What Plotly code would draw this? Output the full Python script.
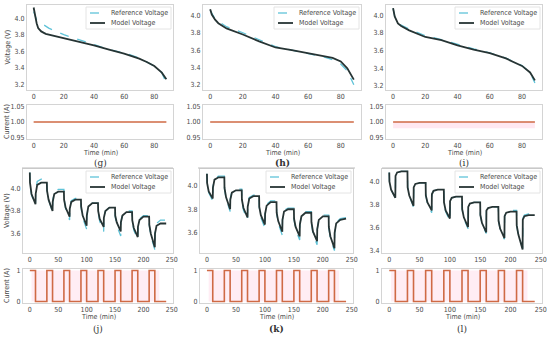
import plotly.graph_objects as go

W, H = 550, 339

# ---------------- DATA ----------------
# Constant-current discharge (panels g, h, i)
T_G_MODEL = [0, 1, 2, 3, 5, 8, 15, 20, 30, 40, 50, 60, 70, 75, 80, 85, 88]
V_G_MODEL = [4.13, 4.02, 3.94, 3.88, 3.84, 3.81, 3.78, 3.76, 3.72, 3.67, 3.62, 3.57, 3.51, 3.47, 3.42, 3.34, 3.26]
T_G_REF = [0, 2, 5, 10, 20, 30, 40, 50, 60, 70, 80, 85, 88]
V_G_REF = [4.08, 3.98, 3.94, 3.88, 3.80, 3.74, 3.68, 3.62, 3.58, 3.52, 3.42, 3.34, 3.21]

T_H_MODEL = [0, 1, 3, 5, 10, 20, 30, 40, 50, 60, 70, 75, 80, 84, 88]
V_H_MODEL = [4.07, 4.01, 3.95, 3.91, 3.85, 3.78, 3.70, 3.63, 3.60, 3.565, 3.53, 3.51, 3.47, 3.39, 3.26]
T_H_REF = [0, 1, 3, 5, 10, 20, 30, 40, 50, 60, 70, 75, 80, 84, 88]
V_H_REF = [4.06, 4.02, 3.96, 3.93, 3.87, 3.80, 3.72, 3.64, 3.60, 3.56, 3.52, 3.49, 3.44, 3.36, 3.20]

T_I_MODEL = [0, 1, 3, 5, 10, 20, 30, 40, 50, 60, 70, 80, 85, 88]
V_I_MODEL = [4.085, 3.99, 3.91, 3.88, 3.83, 3.755, 3.72, 3.66, 3.61, 3.57, 3.51, 3.425, 3.35, 3.26]
T_I_REF = [0, 1, 3, 5, 10, 20, 30, 40, 50, 60, 70, 80, 85, 88]
V_I_REF = [4.08, 3.99, 3.92, 3.89, 3.845, 3.77, 3.725, 3.67, 3.62, 3.575, 3.515, 3.43, 3.35, 3.23]

T_CC = [0, 88]
I_CC = [1.0, 1.0]
SHADE_I_X = [0, 88]
SHADE_I_Y = [0.98, 0.98]

# Pulse discharge (panels j, k, l)
T_PULSE = [0, 0.3, 3, 10, 10.3, 13, 20,
           30, 30.3, 33, 40, 40.3, 43, 50,
           60, 60.3, 63, 70, 70.3, 73, 80,
           90, 90.3, 93, 100, 100.3, 103, 110,
           120, 120.3, 123, 130, 130.3, 133, 140,
           150, 150.3, 153, 160, 160.3, 163, 170,
           180, 180.3, 183, 190, 190.3, 193, 200,
           210, 210.3, 213, 220, 220.3, 223, 230, 240]

V_J_MODEL = [4.14, 4.05, 3.95, 3.86, 3.95, 4.03, 4.05,
             4.05, 3.98, 3.90, 3.80, 3.88, 3.95, 3.97,
             3.97, 3.90, 3.83, 3.75, 3.82, 3.88, 3.90,
             3.90, 3.84, 3.76, 3.67, 3.76, 3.84, 3.87,
             3.87, 3.80, 3.73, 3.66, 3.74, 3.80, 3.83,
             3.83, 3.76, 3.70, 3.62, 3.70, 3.76, 3.79,
             3.79, 3.72, 3.65, 3.57, 3.66, 3.72, 3.75,
             3.75, 3.68, 3.60, 3.48, 3.60, 3.67, 3.69, 3.69]
V_J_REF = [4.14, 4.04, 3.94, 3.85, 3.97, 4.06, 4.08,
           4.08, 3.99, 3.90, 3.79, 3.89, 3.97, 3.99,
           3.99, 3.91, 3.82, 3.72, 3.82, 3.89, 3.91,
           3.91, 3.83, 3.74, 3.64, 3.76, 3.84, 3.87,
           3.87, 3.79, 3.71, 3.62, 3.73, 3.80, 3.83,
           3.83, 3.75, 3.67, 3.58, 3.70, 3.77, 3.80,
           3.80, 3.71, 3.63, 3.55, 3.66, 3.73, 3.76,
           3.76, 3.67, 3.58, 3.46, 3.61, 3.69, 3.72, 3.72]

V_K_MODEL = [4.10, 4.02, 3.95, 3.89, 3.98, 4.05, 4.07,
             4.07, 3.98, 3.90, 3.80, 3.88, 3.94, 3.96,
             3.96, 3.88, 3.81, 3.73, 3.82, 3.89, 3.91,
             3.91, 3.82, 3.75, 3.67, 3.76, 3.83, 3.86,
             3.86, 3.77, 3.70, 3.61, 3.71, 3.78, 3.80,
             3.80, 3.72, 3.65, 3.57, 3.67, 3.74, 3.77,
             3.77, 3.69, 3.61, 3.53, 3.63, 3.71, 3.74,
             3.74, 3.65, 3.57, 3.47, 3.60, 3.68, 3.71, 3.72]
V_K_REF = [4.10, 4.01, 3.94, 3.87, 3.99, 4.06, 4.08,
           4.08, 3.97, 3.89, 3.78, 3.89, 3.95, 3.97,
           3.97, 3.87, 3.79, 3.71, 3.83, 3.90, 3.92,
           3.92, 3.81, 3.73, 3.64, 3.76, 3.84, 3.87,
           3.87, 3.76, 3.68, 3.58, 3.71, 3.79, 3.81,
           3.81, 3.71, 3.63, 3.54, 3.67, 3.75, 3.78,
           3.78, 3.68, 3.59, 3.50, 3.63, 3.72, 3.75,
           3.75, 3.64, 3.55, 3.45, 3.60, 3.69, 3.72, 3.73]

V_L_MODEL = [4.08, 4.00, 3.93, 3.86, 4.05, 4.08, 4.09,
             4.09, 3.95, 3.88, 3.79, 3.95, 3.98, 3.99,
             3.99, 3.88, 3.82, 3.75, 3.89, 3.92, 3.93,
             3.93, 3.82, 3.75, 3.68, 3.83, 3.86, 3.87,
             3.87, 3.76, 3.69, 3.605, 3.78, 3.81, 3.82,
             3.82, 3.71, 3.64, 3.56, 3.75, 3.77, 3.78,
             3.78, 3.66, 3.59, 3.51, 3.70, 3.73, 3.74,
             3.74, 3.62, 3.54, 3.41, 3.67, 3.70, 3.71, 3.71]
V_L_REF = [4.08, 4.00, 3.93, 3.86, 4.05, 4.08, 4.09,
           4.09, 3.95, 3.88, 3.78, 3.95, 3.98, 3.99,
           3.99, 3.88, 3.81, 3.73, 3.89, 3.92, 3.93,
           3.93, 3.82, 3.74, 3.66, 3.83, 3.86, 3.87,
           3.87, 3.76, 3.68, 3.59, 3.78, 3.81, 3.82,
           3.82, 3.71, 3.63, 3.55, 3.75, 3.77, 3.78,
           3.78, 3.66, 3.58, 3.50, 3.70, 3.73, 3.75,
           3.75, 3.62, 3.53, 3.42, 3.68, 3.71, 3.72, 3.72]

T_CUR_PULSE = [0, 10, 30, 40, 60, 70, 90, 100, 120, 130, 150, 160, 180, 190, 210, 220, 240]
I_PULSE = [1, 0, 1, 0, 1, 0, 1, 0, 1, 0, 1, 0, 1, 0, 1, 0, 0]
SHADE_P_X = [3, 228]
SHADE_P_Y = [1, 1]

PANEL_LABELS = ["(g)", "(h)", "(i)", "(j)", "(k)", "(l)"]
LABEL_BOLD = [False, True, False, False, True, False]
LEGEND_NAMES = ["Reference Voltage", "Model Voltage"]
TICKS_TOP_X = [0, 20, 40, 60, 80]
TICKS_BOT_X = [0, 50, 100, 150, 200, 250]

# ---------------- STYLE / LAYOUT ----------------
REF_C = "#5fc3d8"
MOD_C = "#263434"
CUR_C = "#cf6a45"
FRAME_C = "#d4d4d4"
TXT_C = "#4a4a4a"
FONT = "DejaVu Sans Condensed, DejaVu Sans"
FS = 7

def px_x(a, b):
    return [a / W, b / W]

def px_y(top, bot):
    return [1 - bot / H, 1 - top / H]

cols_top = [(27, 173), (203, 361), (386, 542)]
cols_bot = [(23, 173), (200, 353), (382, 542)]
vy_top, cy_top = (5, 90), (105, 139)
vy_bot, cy_bot = (169, 253), (269, 303)

v_ranges = [[3.13, 4.16], [3.14, 4.12], [3.15, 4.12],
            [3.43, 4.17], [3.43, 4.14], [3.38, 4.11]]

fig = go.Figure()

panels = [
    (T_G_REF, V_G_REF, T_G_MODEL, V_G_MODEL),
    (T_H_REF, V_H_REF, T_H_MODEL, V_H_MODEL),
    (T_I_REF, V_I_REF, T_I_MODEL, V_I_MODEL),
    (T_PULSE, V_J_REF, T_PULSE, V_J_MODEL),
    (T_PULSE, V_K_REF, T_PULSE, V_K_MODEL),
    (T_PULSE, V_L_REF, T_PULSE, V_L_MODEL),
]

layout = {}
annotations = []
shapes = []

def ann(text, x, y, **kw):
    d = dict(text=text, x=x / W, y=1 - y / H, xref="paper", yref="paper",
             xanchor="center", yanchor="middle",
             showarrow=False, font=dict(family=FONT, size=FS, color=TXT_C))
    d.update(kw)
    annotations.append(d)

for p, (tr, vr, tm, vm) in enumerate(panels):
    top = p < 3
    col = p % 3
    xa, xb = (cols_top if top else cols_bot)[col]
    vy = vy_top if top else vy_bot
    cy = cy_top if top else cy_bot
    vi, ci = 2 * p + 1, 2 * p + 2

    fig.add_trace(go.Scatter(x=tr, y=vr, mode="lines", name=LEGEND_NAMES[0], showlegend=False,
                             line=dict(color=REF_C, width=1.3, dash="dash"),
                             xaxis=f"x{vi}", yaxis=f"y{vi}"))
    fig.add_trace(go.Scatter(x=tm, y=vm, mode="lines", name=LEGEND_NAMES[1], showlegend=False,
                             line=dict(color=MOD_C, width=1.8),
                             xaxis=f"x{vi}", yaxis=f"y{vi}"))

    if top:
        if p == 2:
            fig.add_trace(go.Scatter(x=SHADE_I_X, y=SHADE_I_Y, mode="lines",
                                     line=dict(width=0, color="rgba(0,0,0,0)"),
                                     showlegend=False, xaxis=f"x{ci}", yaxis=f"y{ci}"))
        fig.add_trace(go.Scatter(x=T_CC, y=I_CC, mode="lines", showlegend=False,
                                 fill="tonexty" if p == 2 else None,
                                 fillcolor="rgba(255,190,215,0.35)",
                                 line=dict(color=CUR_C, width=1.6),
                                 xaxis=f"x{ci}", yaxis=f"y{ci}"))
        xr = [-4.4, 92.4]
        xt = TICKS_TOP_X
        cr = [0.945, 1.055]
        ct = [0.95, 1.00, 1.05]
        ctt = ["0.95", "1.00", "1.05"]
    else:
        fig.add_trace(go.Scatter(x=SHADE_P_X, y=SHADE_P_Y, mode="lines", fill="tozeroy",
                                 fillcolor="rgba(255,190,215,0.28)",
                                 line=dict(width=0, color="rgba(0,0,0,0)"),
                                 showlegend=False, xaxis=f"x{ci}", yaxis=f"y{ci}"))
        fig.add_trace(go.Scatter(x=T_CUR_PULSE, y=I_PULSE, mode="lines", line_shape="hv",
                                 showlegend=False, line=dict(color=CUR_C, width=1.6),
                                 xaxis=f"x{ci}", yaxis=f"y{ci}"))
        xr = [-12, 252]
        xt = TICKS_BOT_X
        cr = [-0.05, 1.05]
        ct = [0, 1]
        ctt = ["0", "1"]

    axis_common = dict(showline=True, linecolor=FRAME_C, linewidth=1, mirror=True,
                       showgrid=False, zeroline=False, ticks="", automargin=False,
                       tickfont=dict(family=FONT, size=FS, color=TXT_C))

    layout[f"xaxis{vi}"] = dict(domain=px_x(xa, xb), anchor=f"y{vi}", range=xr,
                                tickvals=xt, **axis_common)
    layout[f"yaxis{vi}"] = dict(domain=px_y(*vy), anchor=f"x{vi}", range=v_ranges[p],
                                dtick=0.2, tickformat=".1f", **axis_common)
    layout[f"xaxis{ci}"] = dict(domain=px_x(xa, xb), anchor=f"y{ci}", range=xr,
                                tickvals=xt, **axis_common)
    layout[f"yaxis{ci}"] = dict(domain=px_y(*cy), anchor=f"x{ci}", range=cr,
                                tickvals=ct, ticktext=ctt, **axis_common)

    # axis titles
    ann("Time (min)", (xa + xb) / 2, cy[1] + 14)
    if col == 0:
        ann("Voltage (V)", 7, (vy[0] + vy[1]) / 2, textangle=-90)
        ann("Current (A)", 7, (cy[0] + cy[1]) / 2, textangle=-90)

    # legend (drawn manually, matplotlib style)
    lx0 = xb - 87
    ly0 = vy[0] + 2
    shapes.append(dict(type="rect", xref="paper", yref="paper",
                       x0=lx0 / W, x1=(xb - 2) / W, y0=1 - (ly0 + 22) / H, y1=1 - ly0 / H,
                       fillcolor="rgba(255,255,255,0.8)", line=dict(color="#e4e4e4", width=1),
                       layer="above"))
    for k, (nm, c, dsh, wd) in enumerate([(LEGEND_NAMES[0], REF_C, "dash", 1.3),
                                           (LEGEND_NAMES[1], MOD_C, "solid", 1.8)]):
        yy = ly0 + 6 + 10 * k
        shapes.append(dict(type="line", xref="paper", yref="paper",
                           x0=(xb - 83) / W, x1=(xb - 68) / W, y0=1 - yy / H, y1=1 - yy / H,
                           line=dict(color=c, width=wd, dash=dsh), layer="above"))
        ann(nm, xb - 64, yy, xanchor="left", font=dict(family=FONT, size=7, color=TXT_C))

    lbl = PANEL_LABELS[p]
    ann(f"<b>{lbl}</b>" if LABEL_BOLD[p] else lbl, (xa + xb) / 2, 163 if top else 329,
        font=dict(family="DejaVu Serif", size=9, color="#333333"))
    if top:
        sx = [(22, 173), (198, 355), (382, 542)][col]
        shapes.append(dict(type="line", xref="paper", yref="paper",
                           x0=sx[0] / W, x1=sx[1] / W, y0=1 - 168 / H, y1=1 - 168 / H,
                           line=dict(color="#bdbdbd", width=1)))

fig.update_layout(width=W, height=H, margin=dict(l=0, r=0, t=0, b=0, autoexpand=False),
                  paper_bgcolor="white", plot_bgcolor="white", showlegend=False,
                  font=dict(family=FONT, size=FS, color=TXT_C),
                  annotations=annotations, shapes=shapes, **layout)

fig.write_html("out.html", config={"displayModeBar": False, "staticPlot": True},
               post_script="document.body.style.margin='0';document.body.style.overflow='hidden';")
